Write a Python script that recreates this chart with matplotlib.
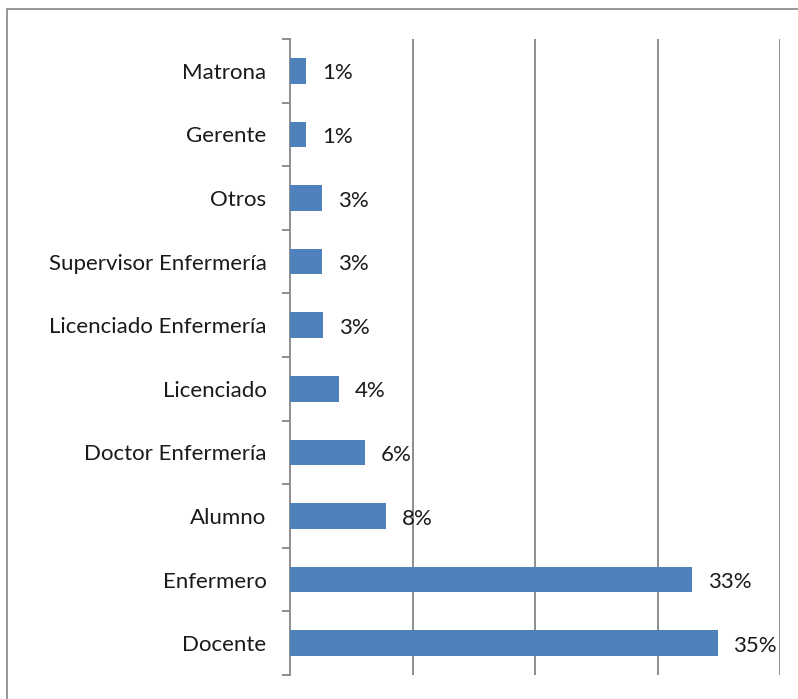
import matplotlib.pyplot as plt
import matplotlib.patches as mpatches

# Datos (porcentaje por ocupación)
categorias = ["Docente", "Enfermero", "Alumno", "Doctor Enfermería", "Licenciado",
              "Licenciado Enfermería", "Supervisor Enfermería", "Otros", "Gerente", "Matrona"]
valores = [34.9, 32.8, 7.8, 6.1, 4.0, 2.7, 2.6, 2.6, 1.3, 1.3]

plt.rcParams['font.family'] = ['Lato', 'DejaVu Sans']

fig = plt.figure(figsize=(7.98, 6.99), dpi=100)
ax = fig.add_axes([290 / 798, 1 - 675 / 699, 490 / 798, 636 / 699])

# Marco exterior del gráfico
fig.patches.append(mpatches.Rectangle((7 / 798, -0.05), 1.2, 1 - 9 / 699 + 0.05,
                                      transform=fig.transFigure, fill=False,
                                      edgecolor='#868686', linewidth=1.2))

pos = range(len(categorias))
ax.barh(pos, valores, height=0.4, color='#4F81BD', zorder=3)

for y, v in zip(pos, valores):
    ax.text(v + 1.3, y - 0.04, f"{round(v):.0f}%", va='center', ha='left', fontsize=16,
            color='#1a1a1a')

ax.set_xlim(0, 40)
ax.set_ylim(-0.5, len(categorias) - 0.5)
ax.set_xticks([10, 20, 30, 40])
ax.set_xticklabels([])
ax.tick_params(axis='x', length=0)
ax.grid(axis='x', color='#868686', linewidth=1.3, zorder=0)

ax.set_yticks(list(pos))
ax.set_yticklabels(categorias, fontsize=16, color='#1a1a1a')
ax.set_yticks([i - 0.5 for i in range(len(categorias) + 1)], minor=True)
ax.tick_params(axis='y', which='major', length=0, pad=17)
ax.tick_params(axis='y', which='minor', length=6, width=1.3, color='#868686')

for s in ['top', 'right', 'bottom']:
    ax.spines[s].set_visible(False)
ax.spines['left'].set_color('#868686')
ax.spines['left'].set_linewidth(1.3)

fig.savefig('out.png', dpi=100)
